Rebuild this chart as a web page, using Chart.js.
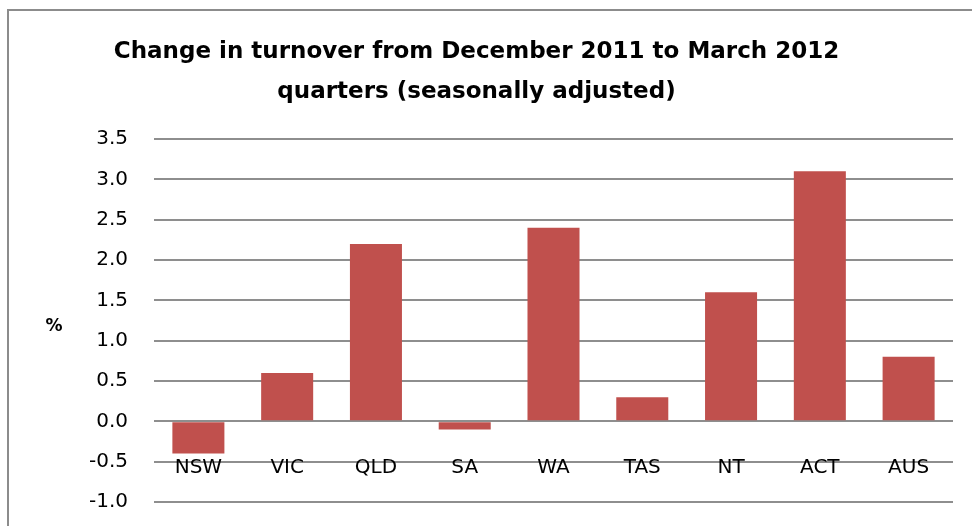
<!DOCTYPE html>
<html>
<head>
<meta charset="utf-8">
<script src="https://cdn.jsdelivr.net/npm/chart.js@4/dist/chart.umd.min.js"></script>
<style>
  html, body { margin: 0; padding: 0; background: #fff; }
  #wrap { position: relative; width: 972px; height: 526px; overflow: hidden; }
  #frame { position: absolute; left: 7px; top: 9px; width: 980px; height: 540px;
           border-left: 2px solid #8c8c8c; border-top: 2px solid #8c8c8c; }
  canvas { position: absolute; left: 0; top: 0; }
</style>
</head>
<body>
<div id="wrap">
  <div id="frame"></div>
  <canvas id="turnoverChart" width="972" height="526"></canvas>
</div>
<script>
// datos
const states = ['NSW', 'VIC', 'QLD', 'SA', 'WA', 'TAS', 'NT', 'ACT', 'AUS'];
const changePct = [-0.4, 0.6, 2.2, -0.1, 2.4, 0.3, 1.6, 3.1, 0.8];
const titleLines = ['Change in turnover from December 2011 to March 2012', 'quarters (seasonally adjusted)'];
const yLabel = '%';
const labelLevel = -0.57; // altura donde van las etiquetas de categoría

const FONT = "'DejaVu Sans', sans-serif";

// Plugin para dibujar las etiquetas de categoría y el símbolo %
const extraText = {
    id: 'extraText',
    afterDraw(chart) {
        const ctx = chart.ctx;
        const x = chart.scales.x;
        const y = chart.scales.y;
        ctx.save();
        ctx.fillStyle = '#000';
        ctx.textAlign = 'center';
        ctx.textBaseline = 'middle';
        ctx.font = '20px ' + FONT;
        states.forEach((s, i) => {
            ctx.fillText(s, x.getPixelForValue(i), y.getPixelForValue(labelLevel));
        });
        ctx.font = 'bold 17px ' + FONT;
        ctx.fillText(yLabel, 54, 327);
        ctx.restore();
    }
};

new Chart(document.getElementById('turnoverChart').getContext('2d'), {
    type: 'bar',
    data: {
        labels: states,
        datasets: [{
            data: changePct,
            backgroundColor: '#C0504D',
            borderWidth: 0,
            barPercentage: 0.586,
            categoryPercentage: 1
        }]
    },
    options: {
        responsive: false,
        animation: false,
        layout: { padding: { left: 0, right: 19, top: 0, bottom: 24 } },
        plugins: {
            legend: { display: false },
            tooltip: { enabled: false },
            title: {
                display: true,
                text: titleLines,
                color: '#000',
                font: { family: FONT, size: 23, weight: 'bold', lineHeight: 1.74 },
                padding: { top: 32, bottom: 27 }
            }
        },
        scales: {
            x: {
                ticks: { display: false },
                grid: { display: false },
                border: { display: false },
                afterFit: s => { s.height = 0; }
            },
            y: {
                min: -1,
                max: 3.5,
                ticks: {
                    stepSize: 0.5,
                    color: '#000',
                    padding: 0,
                    font: { family: FONT, size: 20 },
                    callback: v => v.toFixed(1)
                },
                // marcas invisibles para separar las etiquetas del área
                grid: { color: '#8e8e8e', lineWidth: 2, drawTicks: true, tickLength: 26, tickColor: 'rgba(0,0,0,0)' },
                border: { display: false },
                afterFit: s => { s.width = 154; }
            }
        }
    },
    plugins: [extraText]
});
</script>
</body>
</html>
